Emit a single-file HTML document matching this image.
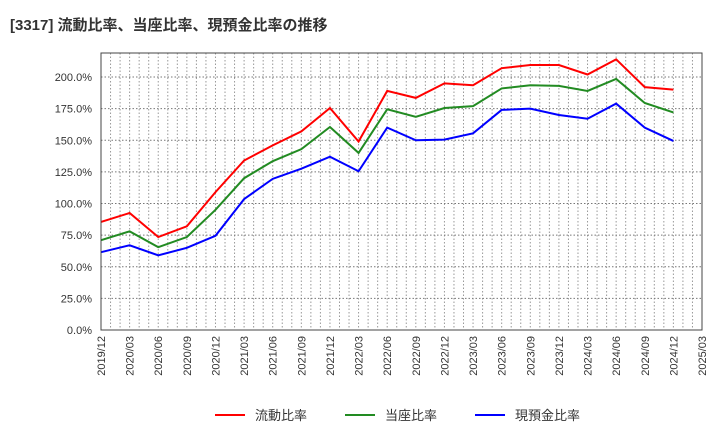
<!DOCTYPE html>
<html><head><meta charset="utf-8">
<style>
body{margin:0;background:#fff;font-family:"Liberation Sans","Noto Sans CJK JP",sans-serif;}
svg text{font-family:"Liberation Sans","Noto Sans CJK JP",sans-serif;}
</style></head>
<body>
<svg id="chart" width="720" height="440" xmlns="http://www.w3.org/2000/svg">
<text x="10" y="30" font-size="15" font-weight="bold" fill="#333">[3317]  流動比率、当座比率、現預金比率の推移</text>
<g id="grid"></g>
<g id="axes"></g>
<g id="series"></g>
<rect x="101" y="53" width="601" height="277" fill="none" stroke="#444" stroke-width="1"/>
<g>
<line x1="215" y1="415" x2="245" y2="415" stroke="#ff0000" stroke-width="2"/>
<text x="255" y="420" font-size="13" fill="#333">流動比率</text>
<line x1="345" y1="415" x2="375" y2="415" stroke="#228b22" stroke-width="2"/>
<text x="385" y="420" font-size="13" fill="#333">当座比率</text>
<line x1="475" y1="415" x2="505" y2="415" stroke="#0000ff" stroke-width="2"/>
<text x="515" y="420" font-size="13" fill="#333">現預金比率</text>
</g>
</svg>
<script>
const categories=["2019/12","2020/03","2020/06","2020/09","2020/12","2021/03","2021/06","2021/09","2021/12","2022/03","2022/06","2022/09","2022/12","2023/03","2023/06","2023/09","2023/12","2024/03","2024/06","2024/09","2024/12"];
const tickLabels=["2019/12","2020/03","2020/06","2020/09","2020/12","2021/03","2021/06","2021/09","2021/12","2022/03","2022/06","2022/09","2022/12","2023/03","2023/06","2023/09","2023/12","2024/03","2024/06","2024/09","2024/12","2025/03"];
const yTicks=[0,25,50,75,100,125,150,175,200];
const currentRatio=[85.4,92.5,73.5,82,109,134,146,157,175.5,149,189,183.5,195,193.5,207,209.5,209.5,202,214,192,190];
const quickRatio=[71,78,65.5,73.5,95,120,133.5,143,160.5,140,174.5,168.5,175.5,177,191,193.5,193,189,198.5,179.5,172];
const cashRatio=[61.5,67,59,65,74.5,103.5,119.5,127.5,137,125.5,160,150,150.5,155.5,174,175,170,167,179,160,149.5];
const NS="http://www.w3.org/2000/svg";
const X0=101,X1=702,Y0=330,YMAX=219;
const nQ=tickLabels.length-1;
function xq(i){return X0+(X1-X0)*i/nQ;}
function xm(m){return X0+(X1-X0)*m/(nQ*3);}
function y(v){return Y0-(Y0-53)*v/YMAX;}
const grid=document.getElementById('grid'),axes=document.getElementById('axes'),ser=document.getElementById('series');
for(let m=1;m<nQ*3;m++){
 const l=document.createElementNS(NS,'line');
 
 
 l.setAttribute('x1',xm(m));l.setAttribute('x2',xm(m));l.setAttribute('y1',53);l.setAttribute('y2',330);
 l.setAttribute('stroke','#999');l.setAttribute('stroke-dasharray','1.5,2');l.setAttribute('stroke-width','1');
 grid.appendChild(l);
}
yTicks.forEach(v=>{
 if(v>0){const l=document.createElementNS(NS,'line');
 
 
 l.setAttribute('x1',X0);l.setAttribute('x2',X1);l.setAttribute('y1',y(v));l.setAttribute('y2',y(v));
 l.setAttribute('stroke','#777');l.setAttribute('stroke-dasharray','1.5,2');grid.appendChild(l);}
 const t=document.createElementNS(NS,'text');
 
 
 t.setAttribute('x',92);t.setAttribute('y',y(v)+4);t.setAttribute('text-anchor','end');t.setAttribute('font-size','11');t.setAttribute('fill','#333');
 t.textContent=v.toFixed(1)+'%';axes.appendChild(t);
});
tickLabels.forEach((s,i)=>{
 const t=document.createElementNS(NS,'text');
 
 
 const x=xq(i)+4;
 t.setAttribute('transform','translate('+x+',336) rotate(-90)');
 t.setAttribute('text-anchor','end');t.setAttribute('font-size','11');t.setAttribute('fill','#333');
 t.textContent=s;axes.appendChild(t);
});
function line(data,color,name){
 const p=document.createElementNS(NS,'polyline');
 
 
 p.setAttribute('points',data.map((v,i)=>xq(i)+','+y(v)).join(' '));
 p.setAttribute('fill','none');p.setAttribute('stroke',color);p.setAttribute('stroke-width','2');
 ser.appendChild(p);
}
line(currentRatio,'#ff0000','current-ratio-line');
line(quickRatio,'#228b22','quick-ratio-line');
line(cashRatio,'#0000ff','cash-ratio-line');
</script>
</body></html>
